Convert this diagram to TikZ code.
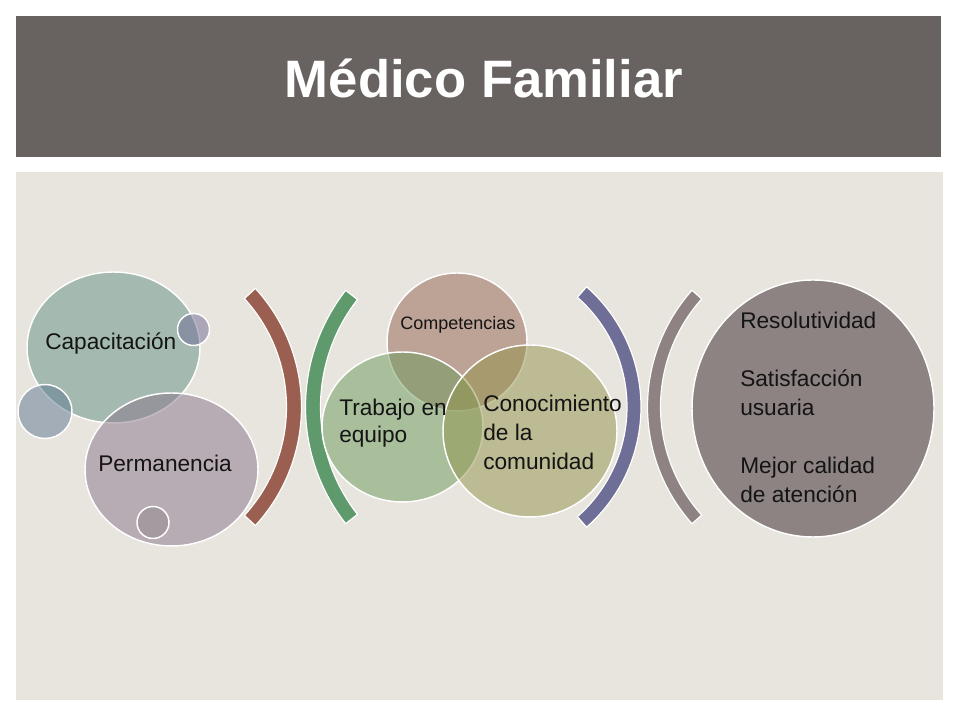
\documentclass[tikz,border=0pt]{standalone}
\usepackage{fontspec}
\setmainfont{Liberation Sans}
\definecolor{headc}{RGB}{104,99,97}
\definecolor{bodyc}{RGB}{232,228,222}
\definecolor{capc}{RGB}{98,146,132}
\definecolor{permc}{RGB}{138,118,140}
\definecolor{smtop}{RGB}{112,108,150}
\definecolor{smleft}{RGB}{94,120,146}
\definecolor{smbot}{RGB}{145,137,139}
\definecolor{compc}{RGB}{148,98,80}
\definecolor{trabc}{RGB}{108,156,92}
\definecolor{conoc}{RGB}{146,148,74}
\definecolor{bigc}{RGB}{142,131,131}
\definecolor{arcbrown}{RGB}{154,95,80}
\definecolor{arcgreen}{RGB}{94,154,107}
\definecolor{arcpurple}{RGB}{110,110,150}
\definecolor{arcgray}{RGB}{142,130,131}
\definecolor{txtc}{RGB}{20,20,20}
\newcommand\myband[7]{%
  \filldraw[fill=#7, draw=white, line width=0.9pt]
    ([shift={({#5}:{#3+#4})}]#1,#2) arc[start angle=#5, end angle=#6, radius={#3+#4}]
    -- ([shift={({#6}:{#3-#4})}]#1,#2) arc[start angle=#6, end angle=#5, radius={#3-#4}] -- cycle;}
\tikzset{
  circ/.style={draw=white, line width=1.1pt, fill opacity=0.5, draw opacity=1},
  lbl/.style={inner sep=0pt, text=txtc, font=\fontsize{17}{20}\selectfont},
}
\begin{document}
\begin{tikzpicture}[x=0.75pt,y=0.75pt]
\useasboundingbox (0,0) rectangle (960,720);
\fill[white] (0,0) rectangle (960,720);
% header and body
\fill[headc] (16,704) rectangle (941,563);
\fill[bodyc] (16,548) rectangle (943,20);
\node[inner sep=0pt, text=white, anchor=base, font=\fontsize{39.5}{44}\selectfont\bfseries] (title) at (484,622) {Médico Familiar};
% left cluster
\filldraw[circ, fill=capc] (113.5,372.5) ellipse[x radius=86.5, y radius=75.5];
\filldraw[circ, fill=permc] (171.5,250.5) ellipse[x radius=86.5, y radius=76.5];
\filldraw[circ, fill=smtop] (193.5,390.5) circle[radius=16];
\filldraw[circ, fill=smleft] (45,308.5) circle[radius=27];
\filldraw[circ, fill=smbot] (153,197.5) circle[radius=16];
\node[lbl, anchor=base west] (cap) at (45,370) {Capacitación};
\node[lbl, anchor=base west] (perm) at (98,248) {Permanencia};
% arcs
\myband{126}{313}{168}{7.5}{-42.5}{42.5}{arcbrown}
\myband{495}{313}{182}{7.5}{142}{218}{arcgreen}
\myband{481}{313}{153}{7}{-48.7}{48.7}{arcpurple}
\myband{823}{313}{169}{6.5}{138.3}{221.7}{arcgray}
% venn
\filldraw[circ, fill=compc] (457,378) ellipse[x radius=70, y radius=69];
\filldraw[circ, fill=trabc] (402.5,293) ellipse[x radius=80.5, y radius=75];
\filldraw[circ, fill=conoc] (530,289) ellipse[x radius=87, y radius=86];
\node[lbl, anchor=base west, font=\fontsize{13.5}{16}\selectfont] (comp) at (400,390) {Competencias};
\node[lbl, anchor=west, align=left, font=\fontsize{17}{20.25}\selectfont] (trab) at (339,296.5) {Trabajo en\\equipo};
\node[lbl, anchor=west, align=left, font=\fontsize{17}{22}\selectfont] (cono) at (483,287.5) {Conocimiento\\de la\\comunidad};
% result circle
\filldraw[draw=white, line width=1.1pt, fill=bigc] (813,311.5) ellipse[x radius=121, y radius=128.5];
\node[lbl, anchor=west, align=left, font=\fontsize{17}{21.75}\selectfont] (res) at (740,313) {Resolutividad\\\mbox{}\\Satisfacción\\usuaria\\\mbox{}\\Mejor calidad\\de atención};
\end{tikzpicture}
\end{document}
